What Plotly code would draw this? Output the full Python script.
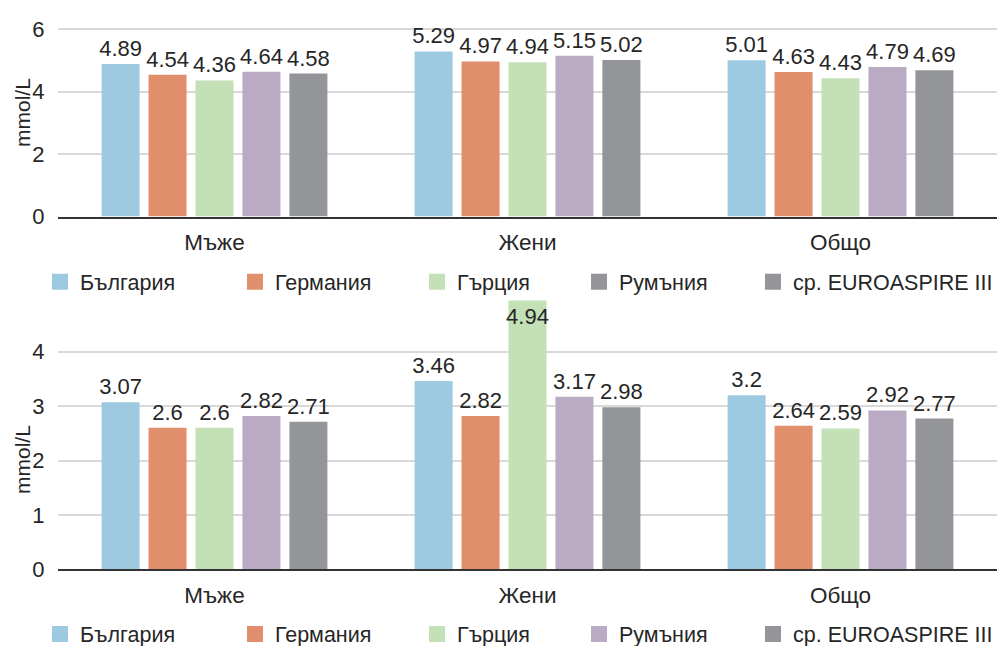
import plotly.graph_objects as go

# Categories and series
groups = ["Мъже", "Жени", "Общо"]
countries = ["България", "Германия", "Гърция", "Румъния", "ср. EUROASPIRE III"]
colors = ["#9ECAE1", "#E08E6B", "#C3E0B7", "#BBAAC4", "#949599"]
# legend swatches of the upper panel (Румъния shown in grey there)
top_legend_colors = ["#9ECAE1", "#E08E6B", "#C3E0B7", "#949599", "#949599"]

# Upper panel, mmol/L
top_bg = [4.89, 5.29, 5.01]
top_de = [4.54, 4.97, 4.63]
top_gr = [4.36, 4.94, 4.43]
top_ro = [4.64, 5.15, 4.79]
top_ea = [4.58, 5.02, 4.69]

# Lower panel, mmol/L
bot_bg = [3.07, 3.46, 3.2]
bot_de = [2.6, 2.82, 2.64]
bot_gr = [2.6, 4.94, 2.59]
bot_ro = [2.82, 3.17, 2.92]
bot_ea = [2.71, 2.98, 2.77]

top_ticks = [0, 2, 4, 6]
bot_ticks = [0, 1, 2, 3, 4]
y_title = "mmol/L"

W, H = 999, 646
FONT = "Liberation Sans, Arial, sans-serif"
TXT = "#262626"

top_series = [top_bg, top_de, top_gr, top_ro, top_ea]
bot_series = [bot_bg, bot_de, bot_gr, bot_ro, bot_ea]

# pixel geometry of the two panels: baseline row and pixels per mmol/L
TOP_BASE, TOP_SCALE = 216.5, 31.2
BOT_BASE, BOT_SCALE = 569.3, 54.4
top_range = [0, 6.3]
bot_top = max(max(s) for s in bot_series) + 0.08
bot_range = [0, max(4.3, bot_top)]
label_room = 4.3  # values above this keep their label inside the bar

fig = go.Figure()


def add_panel(series, xa, ya, room):
    for name, vals, col in zip(countries, series, colors):
        pos = ["inside" if v > room else "outside" for v in vals]
        fig.add_trace(go.Bar(
            x=groups, y=vals, name=name, marker=dict(color=col, line=dict(width=0)),
            text=vals, texttemplate="%{y}", textposition=pos, textangle=0,
            insidetextanchor="end", constraintext="none",
            textfont=dict(size=22, color=TXT, family=FONT),
            cliponaxis=False, showlegend=False, xaxis=xa, yaxis=ya))


add_panel(top_series, "x", "y", 99)
add_panel(bot_series, "x2", "y2", label_room)

# Legend rows: one legend per entry so each entry sits at its own x
entry_x = [54, 249, 431, 593, 767]
legend_layout = {}
k = 1
for row, (ycen, swatches) in enumerate([(281.7, top_legend_colors), (634, colors)]):
    for i, (name, col) in enumerate(zip(countries, swatches)):
        key = "legend" if k == 1 else f"legend{k}"
        fig.add_trace(go.Scatter(
            x=[None], y=[None], mode="markers", name=name,
            marker=dict(symbol="square", size=17, color=col, line=dict(width=0)),
            legend=key, showlegend=True, xaxis="x" if row == 0 else "x2",
            yaxis="y" if row == 0 else "y2"))
        legend_layout[key] = dict(
            x=(entry_x[i] - 14) / W, xanchor="left", xref="paper",
            y=1 - ycen / H, yanchor="middle", yref="paper",
            orientation="h", bgcolor="rgba(0,0,0,0)", borderwidth=0,
            font=dict(size=21.5, color=TXT, family=FONT),
            itemwidth=30, itemsizing="trace")
        k += 1

x_dom = [58 / W, 997 / W]
top_dom = [1 - TOP_BASE / H, 1 - (TOP_BASE - top_range[1] * TOP_SCALE) / H]
bot_dom = [1 - BOT_BASE / H, 1 - (BOT_BASE - bot_range[1] * BOT_SCALE) / H]

axis_common = dict(
    showgrid=False, showline=True, linecolor="#333333", linewidth=1.5,
    ticks="outside", ticklen=0, tickcolor="rgba(0,0,0,0)", ticklabelstandoff=5,
    tickfont=dict(size=22.5, color=TXT, family=FONT), domain=x_dom, automargin=False)
yaxis_common = dict(
    showgrid=True, gridcolor="#D9D9D9", gridwidth=1.5, zeroline=False,
    showline=False, tickfont=dict(size=22, color=TXT, family=FONT),
    ticks="outside", ticklen=0, tickcolor="rgba(0,0,0,0)", ticklabelstandoff=8,
    automargin=False)

# vertical axis titles, centred on each panel's 0..4.3 span
title_ann = [
    dict(text=y_title, x=22 / W, y=1 - 113 / H),
    dict(text=y_title, x=22 / W, y=1 - 460 / H),
]
annotations = [
    dict(a, xref="paper", yref="paper", xanchor="center", yanchor="middle",
         textangle=-90, showarrow=False, font=dict(size=21, color=TXT, family=FONT))
    for a in title_ann
]

fig.update_layout(
    width=W, height=H, margin=dict(l=0, r=0, t=0, b=0, autoexpand=False),
    paper_bgcolor="white", plot_bgcolor="white",
    barmode="group", bargap=0.25, bargroupgap=0.19,
    xaxis=dict(axis_common, anchor="y"),
    xaxis2=dict(axis_common, anchor="y2"),
    yaxis=dict(yaxis_common, domain=top_dom, range=top_range, tickvals=top_ticks, anchor="x"),
    yaxis2=dict(yaxis_common, domain=bot_dom, range=bot_range, tickvals=bot_ticks, anchor="x2"),
    annotations=annotations,
    showlegend=True,
    **legend_layout,
)

fig.write_html("out.html")
